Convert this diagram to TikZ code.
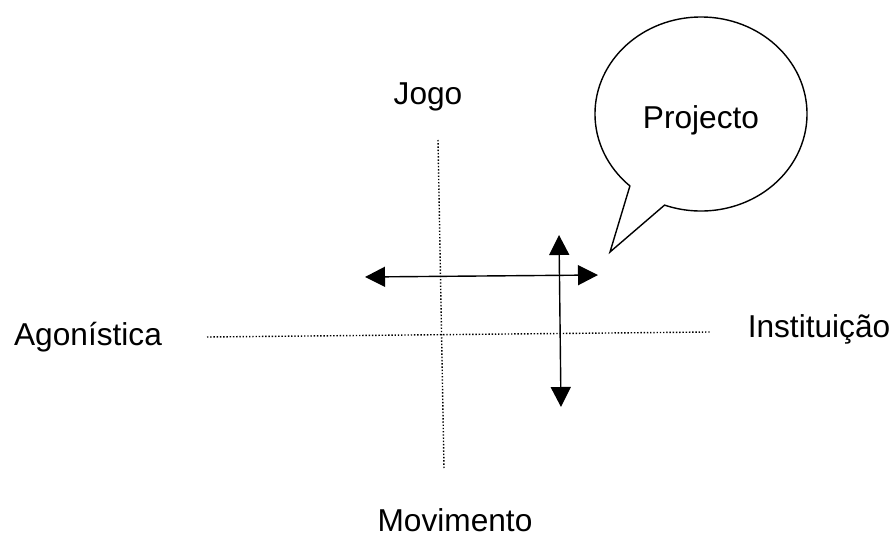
\documentclass[tikz,border=0pt]{standalone}
\usepackage{fontspec}
\setmainfont{Liberation Sans}
\usepackage{tikz}
\usetikzlibrary{arrows.meta,shapes.callouts}

\begin{document}
\begin{tikzpicture}[x=0.025cm,y=-0.025cm,
    every node/.style={font=\fontsize{22.5}{27}\selectfont},
    term/.style={anchor=base},
    dotline/.style={line width=1pt,dash pattern=on 1pt off 1.3pt},
    dblarrow/.style={{Triangle[length=0.5cm,width=0.5cm]}-{Triangle[length=0.5cm,width=0.5cm]},line width=1pt}]
    \useasboundingbox (0,0) rectangle (894,538);
    % eixos
    \coordinate (top) at (438,140);
    \coordinate (bottom) at (444,468);
    \coordinate (left) at (207,337);
    \coordinate (right) at (710,332);
    \draw[dotline] (top) -- (bottom);
    \draw[dotline] (left) -- (right);
    \node[term] (jogo) at (428,105) {Jogo};
    \node[term] (movimento) at (455,531) {Movimento};
    \node[term] (agonistica) at (88,345) {Agonística};
    \node[term] (instituicao) at (819,337) {Instituição};
    % deslocamentos
    \coordinate (w) at (365,277);
    \coordinate (e) at (598,275);
    \coordinate (n) at (559,235);
    \coordinate (s) at (561,407);
    \draw[dblarrow] (w) -- (e);
    \draw[dblarrow] (n) -- (s);
    % balao
    \coordinate (tip) at (610,252);
    \node[draw,line width=1pt,ellipse callout,minimum width=5.3cm,minimum height=4.85cm,
      text height=25pt,text depth=4.7pt,
      callout absolute pointer={(tip)},callout pointer arc=22] (projecto) at (701,114) {Projecto};
\end{tikzpicture}
\end{document}
